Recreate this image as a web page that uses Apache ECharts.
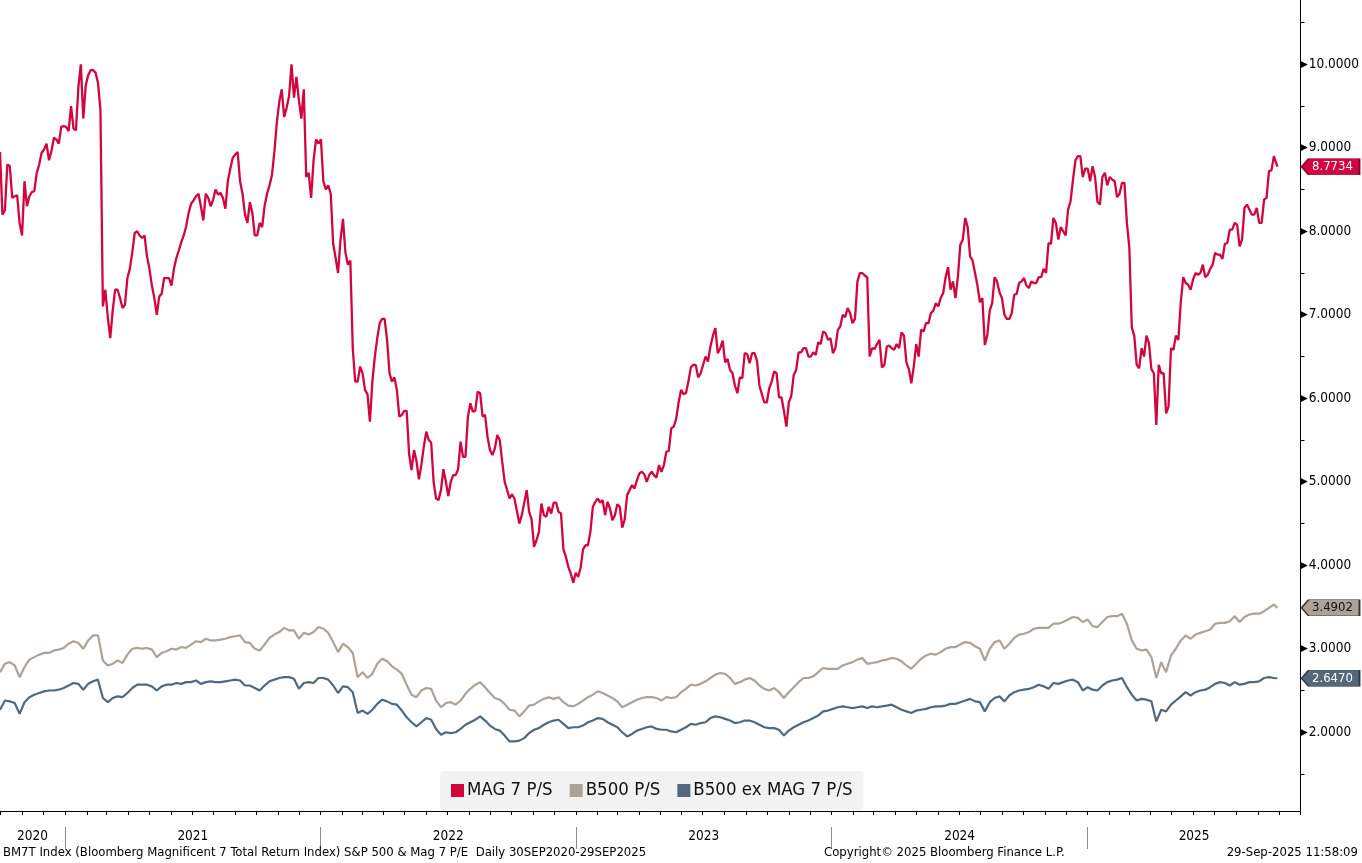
<!DOCTYPE html>
<html>
<head>
<meta charset="utf-8">
<script src="https://cdn.jsdelivr.net/npm/echarts@6.0.0/dist/echarts.min.js"></script>
<style>
  html, body { margin: 0; padding: 0; background: #fff; }
  #chart { width: 1362px; height: 863px; }
</style>
</head>
<body>
<div id="chart"></div>
<script>
// readings start on 30 Sep 2020; MAG 7 read twice a week, the B500 lines weekly
const startDate = Date.UTC(2020, 8, 30);
const mag7Step = 3.5;
const b500Step = 7;
const lastDay = 1825;   // 29 Sep 2025
const xMax = 1858;

const seriesNames = ['MAG 7 P/S', 'B500 P/S', 'B500 ex MAG 7 P/S'];
const seriesColors = ['#d2063e', '#aca298', '#53687a'];
const lastValues = [8.7734, 3.4902, 2.6470];

const mag7 = [
  8.95, 8.2, 8.25, 8.8, 8.78, 8.4, 8.42, 8.43, 8.1, 7.95,
  8.6, 8.3, 8.42, 8.47, 8.48, 8.7, 8.8, 8.94, 8.98, 9.05,
  8.85, 8.96, 9.12, 9.1, 9.05, 9.25, 9.26, 9.25, 9.2, 9.5,
  9.23, 9.21, 9.73, 10.0, 9.35, 9.75, 9.87, 9.93, 9.93, 9.9,
  9.78, 9.45, 7.1, 7.3, 6.97, 6.72, 7.05, 7.3, 7.3, 7.2,
  7.08, 7.12, 7.44, 7.55, 7.75, 7.98, 8.0, 7.95, 7.92, 7.95,
  7.7, 7.55, 7.35, 7.2, 7.0, 7.22, 7.25, 7.44, 7.44, 7.44,
  7.35, 7.55, 7.68, 7.77, 7.87, 7.95, 8.06, 8.22, 8.33, 8.37,
  8.42, 8.45, 8.3, 8.13, 8.45, 8.4, 8.3, 8.38, 8.5, 8.44,
  8.46, 8.4, 8.27, 8.6, 8.75, 8.88, 8.92, 8.95, 8.6, 8.45,
  8.2, 8.1, 8.35, 8.22, 7.95, 7.95, 8.1, 8.05, 8.3, 8.45,
  8.55, 8.67, 8.95, 9.3, 9.55, 9.7, 9.37, 9.48, 9.62, 10.0,
  9.6, 9.85, 9.57, 9.35, 9.7, 8.65, 8.7, 8.4, 8.85, 9.1,
  9.05, 9.1, 8.6, 8.5, 8.55, 8.45, 7.85, 7.68, 7.5, 7.9,
  8.15, 7.75, 7.6, 7.65, 6.6, 6.2, 6.2, 6.38, 6.3, 6.1,
  6.05, 5.72, 6.2, 6.5, 6.72, 6.9, 6.95, 6.95, 6.7, 6.3,
  6.2, 6.25, 6.1, 5.78, 5.8, 5.85, 5.85, 5.33, 5.14, 5.38,
  5.25, 5.03, 5.2, 5.42, 5.6, 5.5, 5.47, 5.0, 4.8, 4.78,
  4.9, 5.15, 5.0, 4.83, 5.0, 5.08, 5.08, 5.15, 5.48, 5.3,
  5.3, 5.78, 5.94, 5.84, 5.85, 6.08, 6.06, 5.78, 5.8, 5.54,
  5.38, 5.32, 5.4, 5.56, 5.5, 5.24, 5.0, 4.9, 4.8, 4.85,
  4.8, 4.65, 4.5, 4.6, 4.75, 4.9, 4.64, 4.55, 4.22, 4.3,
  4.4, 4.74, 4.6, 4.58, 4.7, 4.62, 4.75, 4.75, 4.64, 4.62,
  4.19, 4.1, 3.98, 3.9, 3.79, 3.91, 3.86, 3.97, 4.19, 4.24,
  4.24, 4.4, 4.7, 4.76, 4.8, 4.75, 4.78, 4.6, 4.76, 4.68,
  4.54, 4.6, 4.73, 4.7, 4.45, 4.55, 4.84, 4.9, 4.96, 4.92,
  5.02, 5.1, 5.12, 5.09, 5.0, 5.08, 5.12, 5.08, 5.05, 5.2,
  5.12, 5.2, 5.36, 5.37, 5.64, 5.66, 5.75, 5.95, 6.1, 6.05,
  6.06, 6.2, 6.37, 6.4, 6.4, 6.25, 6.3, 6.4, 6.5, 6.44,
  6.62, 6.75, 6.84, 6.54, 6.6, 6.69, 6.43, 6.47, 6.34, 6.3,
  6.15, 6.06, 6.25, 6.24, 6.54, 6.53, 6.42, 6.54, 6.54, 6.45,
  6.15, 6.05, 5.95, 5.95, 6.12, 6.2, 6.32, 6.3, 6.01, 6.01,
  5.85, 5.66, 5.95, 6.03, 6.28, 6.34, 6.55, 6.55, 6.6, 6.6,
  6.5, 6.5, 6.55, 6.52, 6.67, 6.65, 6.8, 6.78, 6.7, 6.72,
  6.54, 6.6, 6.82, 6.86, 7.0, 6.97, 7.08, 7.02, 6.9, 6.95,
  7.4, 7.5, 7.5, 7.47, 7.45, 6.5, 6.6, 6.59, 6.65, 6.7,
  6.37, 6.4, 6.62, 6.63, 6.6, 6.58, 6.65, 6.6, 6.79, 6.75,
  6.43, 6.35, 6.18, 6.38, 6.65, 6.5, 6.82, 6.8, 6.9, 6.9,
  7.02, 7.05, 7.14, 7.1, 7.2, 7.26, 7.45, 7.57, 7.3, 7.4,
  7.2, 7.45, 7.84, 7.9, 8.16, 8.05, 7.7, 7.65, 7.5, 7.35,
  7.15, 7.2, 6.64, 6.75, 7.05, 7.14, 7.45, 7.4, 7.27, 7.2,
  7.0, 6.95, 6.95, 7.02, 7.24, 7.25, 7.38, 7.4, 7.44, 7.35,
  7.32, 7.4, 7.38, 7.38, 7.45, 7.45, 7.55, 7.5, 7.86, 7.85,
  8.16, 8.1, 7.9, 8.05, 8.0, 7.95, 8.26, 8.36, 8.62, 8.85,
  8.9, 8.9, 8.65, 8.75, 8.75, 8.6, 8.78, 8.65, 8.35, 8.32,
  8.65, 8.7, 8.55, 8.65, 8.62, 8.6, 8.41, 8.45, 8.58, 8.58,
  8.1, 7.8, 6.85, 6.75, 6.4, 6.36, 6.6, 6.5, 6.75, 6.66,
  6.35, 6.3, 5.68, 6.4, 6.3, 6.3, 5.82, 5.9, 6.6, 6.58,
  6.75, 6.7, 7.15, 7.45, 7.38, 7.36, 7.3, 7.42, 7.5, 7.48,
  7.5, 7.6, 7.45, 7.48, 7.55, 7.6, 7.74, 7.72, 7.72, 7.67,
  7.85, 7.86, 8.02, 8.02, 8.1, 8.08, 7.82, 7.9, 8.28, 8.32,
  8.26, 8.2, 8.2, 8.28, 8.1, 8.1, 8.38, 8.4, 8.72, 8.73,
  8.9
];

const b500 = [
  2.72, 2.82, 2.84, 2.8, 2.66, 2.78, 2.87, 2.9, 2.93, 2.95,
  2.95, 2.98, 2.99, 3.01, 3.06, 3.09, 3.07, 3.0, 3.1, 3.16,
  3.16, 2.86, 2.8, 2.82, 2.86, 2.83, 2.93, 3.0, 3.01, 3.0,
  3.01, 2.99, 2.9, 2.95, 2.97, 3.0, 2.99, 3.02, 3.01, 3.05,
  3.09, 3.08, 3.12, 3.1, 3.1, 3.11, 3.12, 3.14, 3.15, 3.16,
  3.08, 3.07, 3.0, 2.98, 3.05, 3.13, 3.17, 3.2, 3.25, 3.22,
  3.22, 3.12, 3.19, 3.17, 3.2, 3.26, 3.24, 3.19, 3.08, 2.96,
  3.06, 3.02, 2.95, 2.66, 2.72, 2.65, 2.7, 2.82, 2.88, 2.85,
  2.79, 2.75, 2.7, 2.57, 2.45, 2.42, 2.5, 2.53, 2.52, 2.38,
  2.3, 2.35, 2.36, 2.33, 2.38, 2.46, 2.52, 2.57, 2.6, 2.54,
  2.47, 2.41, 2.39, 2.34, 2.27, 2.26, 2.19, 2.25, 2.32, 2.33,
  2.37, 2.4, 2.42, 2.4, 2.42, 2.36, 2.32, 2.31, 2.34, 2.38,
  2.42, 2.45, 2.49, 2.47, 2.44, 2.41, 2.37, 2.3, 2.33, 2.36,
  2.39, 2.41, 2.42, 2.42, 2.41, 2.38, 2.42, 2.41, 2.42, 2.48,
  2.52, 2.57, 2.56, 2.58, 2.61, 2.65, 2.69, 2.71, 2.7, 2.65,
  2.58, 2.6, 2.63, 2.65, 2.62, 2.56, 2.52, 2.5, 2.53, 2.48,
  2.41, 2.48, 2.54, 2.6, 2.65, 2.65, 2.67, 2.72, 2.77, 2.76,
  2.76, 2.76, 2.8, 2.82, 2.84, 2.87, 2.89, 2.82, 2.83, 2.84,
  2.86, 2.87, 2.89, 2.88, 2.85, 2.8, 2.76, 2.82, 2.88, 2.92,
  2.94, 2.93, 2.96, 3.0, 3.02, 3.02, 3.05, 3.08, 3.07, 3.03,
  3.0, 2.86, 3.0, 3.08, 3.1, 3.0, 3.06, 3.13, 3.17, 3.18,
  3.2, 3.24, 3.25, 3.25, 3.25, 3.3, 3.3, 3.32, 3.35, 3.38,
  3.37, 3.32, 3.35, 3.27, 3.26, 3.32, 3.38, 3.39, 3.39, 3.42,
  3.3, 3.1, 3.0, 2.98, 2.99, 2.9, 2.65, 2.84, 2.72, 2.92,
  3.0, 3.1, 3.16, 3.12, 3.17, 3.19, 3.21, 3.23, 3.3, 3.31,
  3.31, 3.33, 3.39, 3.32, 3.38, 3.41, 3.42, 3.42, 3.45, 3.49,
  3.53
];

const b500ex = [
  2.27, 2.38, 2.37, 2.35, 2.22, 2.36, 2.42, 2.45, 2.47, 2.49,
  2.5, 2.5, 2.51, 2.53, 2.56, 2.59, 2.58, 2.51, 2.58, 2.61,
  2.63, 2.41, 2.36, 2.41, 2.43, 2.42, 2.47, 2.53, 2.57, 2.57,
  2.57, 2.55, 2.5, 2.55, 2.57, 2.57, 2.59, 2.58, 2.6, 2.6,
  2.62, 2.58, 2.6, 2.61, 2.6, 2.6, 2.61, 2.62, 2.63, 2.62,
  2.56, 2.56, 2.53, 2.5, 2.56, 2.61, 2.63, 2.65, 2.66, 2.66,
  2.64, 2.52, 2.59, 2.6, 2.59, 2.65, 2.65, 2.63, 2.56, 2.47,
  2.55, 2.54, 2.48, 2.23, 2.26, 2.22, 2.27, 2.34, 2.39, 2.37,
  2.34, 2.33, 2.26, 2.18, 2.12, 2.07, 2.12, 2.17, 2.15, 2.04,
  1.97, 2.0, 1.99, 2.0, 2.04, 2.09, 2.12, 2.15, 2.19, 2.14,
  2.08, 2.04, 2.02, 1.96, 1.89, 1.89, 1.9, 1.93, 1.99, 2.03,
  2.05, 2.09, 2.12, 2.14, 2.15, 2.1, 2.05, 2.06, 2.06, 2.08,
  2.12, 2.14, 2.17, 2.16, 2.12, 2.09, 2.06, 2.0, 1.95, 1.98,
  2.02, 2.04, 2.06, 2.07, 2.04, 2.03, 2.03, 2.01, 2.0, 2.03,
  2.06, 2.1, 2.09, 2.11, 2.12, 2.17, 2.19, 2.18, 2.16, 2.14,
  2.11, 2.12, 2.14, 2.14, 2.12, 2.09, 2.06, 2.05, 2.05, 2.03,
  1.96, 2.02, 2.06, 2.09, 2.12, 2.14, 2.17, 2.2, 2.25, 2.26,
  2.28, 2.3, 2.31, 2.3, 2.29, 2.3, 2.31, 2.29, 2.31, 2.3,
  2.31, 2.32, 2.33, 2.3, 2.27, 2.25, 2.23, 2.26, 2.27, 2.28,
  2.3, 2.31, 2.31, 2.32, 2.34, 2.34, 2.36, 2.38, 2.4, 2.37,
  2.36, 2.25, 2.36, 2.41, 2.43, 2.37, 2.44, 2.48, 2.5, 2.51,
  2.52, 2.54, 2.57, 2.55, 2.52, 2.59, 2.58, 2.6, 2.62, 2.63,
  2.6, 2.5, 2.54, 2.51, 2.5, 2.56, 2.6, 2.62, 2.63, 2.65,
  2.54, 2.45, 2.38, 2.4, 2.39, 2.37, 2.13, 2.27, 2.25, 2.33,
  2.38, 2.43, 2.48, 2.44, 2.48, 2.5, 2.51, 2.54, 2.58, 2.6,
  2.59, 2.56, 2.6, 2.57, 2.58, 2.6, 2.6, 2.61, 2.65, 2.66,
  2.65
];

const yMin = 1.057, yMax = 10.77;
const yLabelValues = [2, 3, 4, 5, 6, 7, 8, 9, 10];
const yMinorTicks = [1.5, 2.5, 3.5, 4.5, 5.5, 6.5, 7.5, 8.5, 9.5, 10.5];
const years = [2020, 2021, 2022, 2023, 2024, 2025];

const FONT = '"DejaVu Sans Condensed", "DejaVu Sans", sans-serif';
const DAY = 86400000;
const dayOf = (y, m, d) => Math.round((Date.UTC(y, m, d) - startDate) / DAY);

// month ticks, year boundaries and centred year labels along the time axis
const monthTicks = [];
years.forEach(y => {
  for (let m = 0; m < 12; m++) {
    const d = dayOf(y, m, 1);
    if (d >= 0 && d <= xMax) monthTicks.push(d);
  }
});
const yearStarts = years.slice(1).map(y => dayOf(y, 0, 1));
const yearMids = [];
const yearAtMid = {};
years.forEach(y => {
  const a = Math.max(0, dayOf(y, 0, 1));
  const b = Math.min(xMax, dayOf(y + 1, 0, 1));
  const mid = (a + b) / 2;
  yearMids.push(mid);
  yearAtMid[mid] = String(y);
});

function toPoints(values, step, last) {
  const pts = values.map((v, i) => [i * step, v]);
  pts.push([lastDay, last]);
  return pts;
}

const tagPath = 'path://M0,8L7,0L58,0L58,16L7,16Z';
const tagText = ['#ffffff', '#111111', '#ffffff'];
const tagBorder = ['#8a0022', '#333333', '#2c3a46'];
const lineWidths = [2.3, 2.2, 2.2];

const chart = echarts.init(document.getElementById('chart'));

const series = [[mag7, mag7Step], [b500, b500Step], [b500ex, b500Step]].map((s, k) => ({
  name: seriesNames[k],
  type: 'line',
  data: toPoints(s[0], s[1], lastValues[k]),
  showSymbol: false,
  symbol: 'none',
  lineStyle: { color: seriesColors[k], width: lineWidths[k] },
  itemStyle: { color: seriesColors[k] },
  z: k === 0 ? 4 : 3,
  markPoint: {
    silent: true,
    symbol: tagPath,
    symbolSize: [58, 16],
    symbolKeepAspect: false,
    symbolOffset: [30, 0],
    itemStyle: { color: seriesColors[k], borderColor: tagBorder[k], borderWidth: 1 },
    label: {
      show: true,
      position: 'inside',
      offset: [2, 0],
      color: tagText[k],
      fontSize: 13,
      fontFamily: FONT,
      formatter: p => p.value.toFixed(4)
    },
    data: [{ coord: [xMax, lastValues[k]], value: lastValues[k] }]
  }
}));

const footStyle = { fontSize: 13, fontWeight: 'normal', color: '#000', fontFamily: FONT };

chart.setOption({
  animation: false,
  backgroundColor: '#ffffff',
  color: seriesColors,
  title: [
    {
      text: 'BM7T Index (Bloomberg Magnificent 7 Total Return Index) S&P 500 & Mag 7 P/E  Daily 30SEP2020-29SEP2025',
      left: 3, top: 846, padding: 0, textStyle: footStyle
    },
    {
      text: 'Copyright\u00a9 2025 Bloomberg Finance L.P.',
      left: 824, top: 846, padding: 0, textStyle: footStyle
    },
    {
      text: '29-Sep-2025 11:58:09',
      right: 4, top: 846, padding: 0, textStyle: footStyle
    }
  ],
  legend: {
    data: seriesNames,
    left: 440,
    top: 771,
    padding: [10, 11, 10, 11],
    backgroundColor: '#f2f2f2',
    borderRadius: 4,
    icon: 'rect',
    itemWidth: 13,
    itemHeight: 13,
    itemGap: 17,
    textStyle: { fontSize: 18.5, color: '#111', fontFamily: FONT, padding: [0, 0, 0, -2] }
  },
  grid: { left: 0, right: 59, top: 0, bottom: 52 },
  xAxis: [
    {
      type: 'value',
      min: 0,
      max: xMax,
      axisLine: { show: true, onZero: false, lineStyle: { color: '#000', width: 1 } },
      axisTick: { show: true, customValues: monthTicks, length: 4, lineStyle: { color: '#000' } },
      axisLabel: {
        show: true,
        customValues: yearMids,
        margin: 18,
        fontSize: 13.5,
        color: '#000',
        fontFamily: FONT,
        formatter: v => yearAtMid[v] || ''
      },
      splitLine: { show: false }
    },
    {
      type: 'value',
      min: 0,
      max: xMax,
      position: 'bottom',
      offset: 16,
      axisLine: { show: false },
      axisTick: { show: true, customValues: yearStarts, length: 22, lineStyle: { color: '#8c8c8c' } },
      axisLabel: { show: false },
      splitLine: { show: false }
    }
  ],
  yAxis: {
    type: 'value',
    position: 'right',
    min: yMin,
    max: yMax,
    axisLine: { show: true, onZero: false, lineStyle: { color: '#000', width: 1 } },
    axisTick: { show: true, customValues: yMinorTicks, length: 4, lineStyle: { color: '#000' } },
    axisLabel: {
      show: true,
      customValues: yLabelValues,
      margin: 0,
      formatter: v => '{t|\u25B6}{n|' + v.toFixed(4) + '}',
      rich: {
        t: { fontSize: 9.5, color: '#000', fontFamily: 'DejaVu Sans' },
        n: { fontSize: 13.5, color: '#000', fontFamily: FONT, padding: [0, 0, 0, 1] }
      }
    },
    splitLine: { show: false }
  },
  series: series
});
</script>
</body>
</html>
